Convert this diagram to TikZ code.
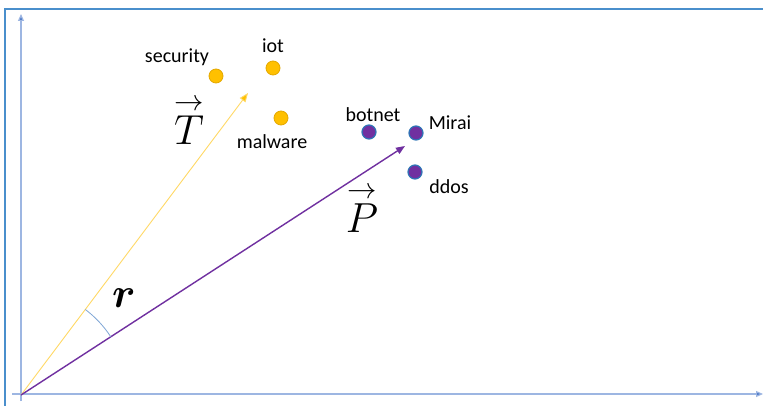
\RequirePackage{fix-cm}
\documentclass[tikz,border=0pt]{standalone}
\usepackage{amsmath,amsbsy}
\usepackage{fontspec}
\setmainfont{Carlito}
\usetikzlibrary{arrows.meta}
\definecolor{frameblue}{HTML}{4A8FCC}
\definecolor{axisblue}{HTML}{9DB6E2}
\definecolor{axishead}{HTML}{4472C4}
\definecolor{gold}{HTML}{FFC000}
\definecolor{goldline}{HTML}{FFD966}
\definecolor{goldedge}{HTML}{E4A800}
\definecolor{purp}{HTML}{7030A0}
\definecolor{dotedge}{HTML}{2E75B6}
\definecolor{arcblue}{HTML}{7FA6D6}
\tikzset{
  axis/.style={draw=axisblue, line width=1.2pt, -{Triangle[length=7pt,width=6pt,fill=axishead]}},
  golddot/.style={circle, fill=gold, draw=goldedge, line width=0.8pt, minimum size=14pt, inner sep=0pt},
  purpdot/.style={circle, fill=purp, draw=dotedge, line width=1.2pt, minimum size=14pt, inner sep=0pt},
  word/.style={font=\fontsize{20}{20}\selectfont, inner sep=0pt},
  mathlbl/.style={font=\fontsize{42}{42}\selectfont, inner sep=0pt},
  vecT/.style={draw=goldline, line width=0.9pt, -{Triangle[length=9pt,width=7pt,fill=gold]}},
  vecP/.style={draw=purp, line width=1.4pt, -{Triangle[length=9pt,width=7pt]}}
}
\begin{document}
\begin{tikzpicture}[x=1pt,y=-1pt]
\useasboundingbox (0,0) rectangle (763,406);
\fill[white] (0,0) rectangle (763,406);
% frame
\draw[frameblue, line width=1.3pt] (5,406) -- (5,9) -- (763,9);
% axes
\coordinate (O) at (21,395);
\coordinate (ytop) at (21,14);
\coordinate (xend) at (763,394);
\coordinate (ybot) at (21,401);
\coordinate (xbeg) at (12,394);
\draw[axis] (ybot) -- (ytop);
\draw[axis] (xbeg) -- (xend);
% dots
\node[golddot] (security) at (216,76) {};
\node[golddot] (iot) at (273,68) {};
\node[golddot] (malware) at (281,118) {};
\node[purpdot] (botnet) at (369,132) {};
\node[purpdot] (mirai) at (416,133) {};
\node[purpdot] (ddos) at (415,172) {};
% labels
\node[word] (lsec) at (177,57) {security};
\node[word] (liot) at (273,46) {iot};
\node[word] (lmal) at (272,142) {malware};
\node[word] (lbot) at (373,115) {botnet};
\node[word] (lmir) at (450,123) {Mirai};
\node[word] (lddos) at (449,187) {ddos};
% vectors
\coordinate (Tend) at (248,93);
\coordinate (Pend) at (405,146);
\draw[vecT] (O) -- (Tend);
\draw[vecP] (O) -- (Pend);
% angle arc
\draw[arcblue, line width=0.8pt] ([shift={(33:107pt)}]O) arc[start angle=33, end angle=53, radius=107pt];
% math labels
\node[mathlbl] (T) at (189,121) {$\overset{\rightarrow}{T}$};
\node[mathlbl] (P) at (362,209) {$\overset{\rightarrow}{P}$};
\node[mathlbl] (r) at (124,298) {$\boldsymbol{r}$};
\end{tikzpicture}
\end{document}
